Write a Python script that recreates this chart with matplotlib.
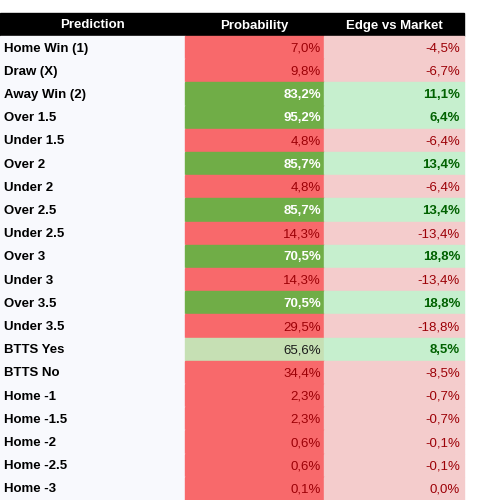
import matplotlib.pyplot as plt
from matplotlib.patches import Rectangle

plt.rcParams['font.family'] = ['Liberation Sans', 'DejaVu Sans']

predictions = ["Home Win (1)", "Draw (X)", "Away Win (2)", "Over 1.5", "Under 1.5",
               "Over 2", "Under 2", "Over 2.5", "Under 2.5", "Over 3", "Under 3",
               "Over 3.5", "Under 3.5", "BTTS Yes", "BTTS No", "Home -1", "Home -1.5",
               "Home -2", "Home -2.5", "Home -3"]
probability = [7.0, 9.8, 83.2, 95.2, 4.8, 85.7, 4.8, 85.7, 14.3, 70.5, 14.3,
               70.5, 29.5, 65.6, 34.4, 2.3, 2.3, 0.6, 0.6, 0.1]
edge = [-4.5, -6.7, 11.1, 6.4, -6.4, 13.4, -6.4, 13.4, -13.4, 18.8, -13.4,
        18.8, -18.8, 8.5, -8.5, -0.7, -0.7, -0.1, -0.1, 0.0]
headers = ["Prediction", "Probability", "Edge vs Market"]

def fmt(v):
    return f"{v:.1f}%".replace(".", ",")

fig = plt.figure(figsize=(5, 5), dpi=100)
ax = fig.add_axes([0, 0, 1, 1])
ax.set_xlim(0, 500)
ax.set_ylim(500, 0)
ax.axis("off")

cols = [0, 185, 324, 464]
top = 13
head_h = 23
row_h = 23.2
fs = 9.5

ax.add_patch(Rectangle((0, top), cols[3], head_h, color="black"))
for i, h in enumerate(headers):
    ax.text((cols[i] + cols[i + 1]) / 2, top + head_h / 2 + 1, h, color="white",
            ha="center", va="center", fontsize=fs, fontweight="bold")

y0 = top + head_h
for r, name in enumerate(predictions):
    y = y0 + r * row_h
    yc = y + row_h / 2 + 1
    ax.add_patch(Rectangle((0, y), cols[1], row_h, color="#f8f9fd"))
    ax.text(4, yc, name, ha="left", va="center", fontsize=fs, fontweight="bold")

    p = probability[r]
    if p >= 70:
        pc, tc, bold = "#70ad47", "white", True
    elif p >= 50:
        pc, tc, bold = "#c6e0b4", "#1a1a1a", False
    else:
        pc, tc, bold = "#f8696b", "#9c0006", False
    ax.add_patch(Rectangle((cols[1], y), cols[2] - cols[1], row_h, color=pc))
    ax.text(cols[2] - 3, yc, fmt(p), ha="right", va="center", fontsize=fs,
            color=tc, fontweight="bold" if bold else "normal")

    e = edge[r]
    if e > 0:
        ec, etc, eb = "#c6efce", "#006100", True
    else:
        ec, etc, eb = "#f4cccc", "#9c0006", False
    ax.add_patch(Rectangle((cols[2], y), cols[3] - cols[2], row_h, color=ec))
    ax.text(cols[3] - 4, yc, fmt(e), ha="right", va="center", fontsize=fs,
            color=etc, fontweight="bold" if eb else "normal")

fig.savefig("out.png", dpi=100)
